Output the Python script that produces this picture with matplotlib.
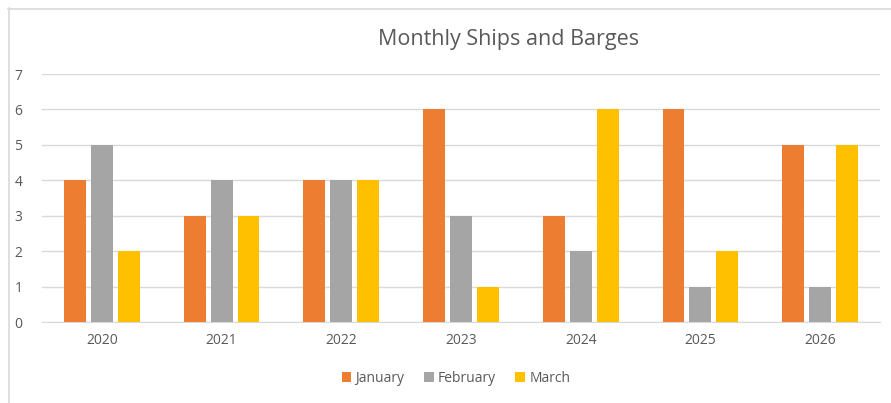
import numpy as np
import matplotlib.pyplot as plt
from matplotlib.lines import Line2D

# data
years = ['2020', '2021', '2022', '2023', '2024', '2025', '2026']
january = [4, 3, 4, 6, 3, 6, 5]
february = [5, 4, 4, 3, 2, 1, 1]
march = [2, 3, 4, 1, 6, 2, 5]

plt.rcParams['font.family'] = ['Open Sans', 'DejaVu Sans']

fig = plt.figure(figsize=(8.91, 4.03), dpi=100)
ax = fig.add_axes([42 / 891, 81 / 403, 838 / 891, 248 / 403])

x = np.arange(len(years))
w = 22 / 120
step = 27 / 120
ax.bar(x - step, january, w, color='#ED7D31', label='January', zorder=3)
ax.bar(x, february, w, color='#A5A5A5', label='February', zorder=3)
ax.bar(x + step, march, w, color='#FFC000', label='March', zorder=3)

ax.set_xlim(-0.5, len(years) - 0.5)
ax.set_ylim(0, 7)
ax.set_yticks(range(8))
ax.set_xticks(x)
ax.set_xticklabels(years)
ax.yaxis.grid(True, color='#D9D9D9', linewidth=1, zorder=0)
for s in ['top', 'right', 'left']:
    ax.spines[s].set_visible(False)
ax.spines['bottom'].set_color('#D9D9D9')
ax.tick_params(axis='both', length=0, colors='#595959', labelsize=10)
ax.tick_params(axis='x', pad=8)
ax.tick_params(axis='y', pad=14)

fig.text(509 / 891, 1 - 40 / 403, 'Monthly Ships and Barges', ha='center', va='center',
         fontsize=15.5, color='#595959')

fig.legend(loc='center', bbox_to_anchor=(456 / 891, 1 - 378 / 403), ncol=3, frameon=False,
           fontsize=10, labelcolor='#595959', handlelength=0.7, handleheight=0.7,
           handletextpad=0.3, columnspacing=1.4)

# chart border, only top and left edges visible
fig.add_artist(Line2D([8 / 891, 1], [1 - 8.5 / 403, 1 - 8.5 / 403], color='#D9D9D9', lw=1.2,
                      transform=fig.transFigure))
fig.add_artist(Line2D([8.5 / 891, 8.5 / 891], [0, 1 - 8 / 403], color='#D9D9D9', lw=1.2,
                      transform=fig.transFigure))

fig.savefig('out.png', dpi=100)
